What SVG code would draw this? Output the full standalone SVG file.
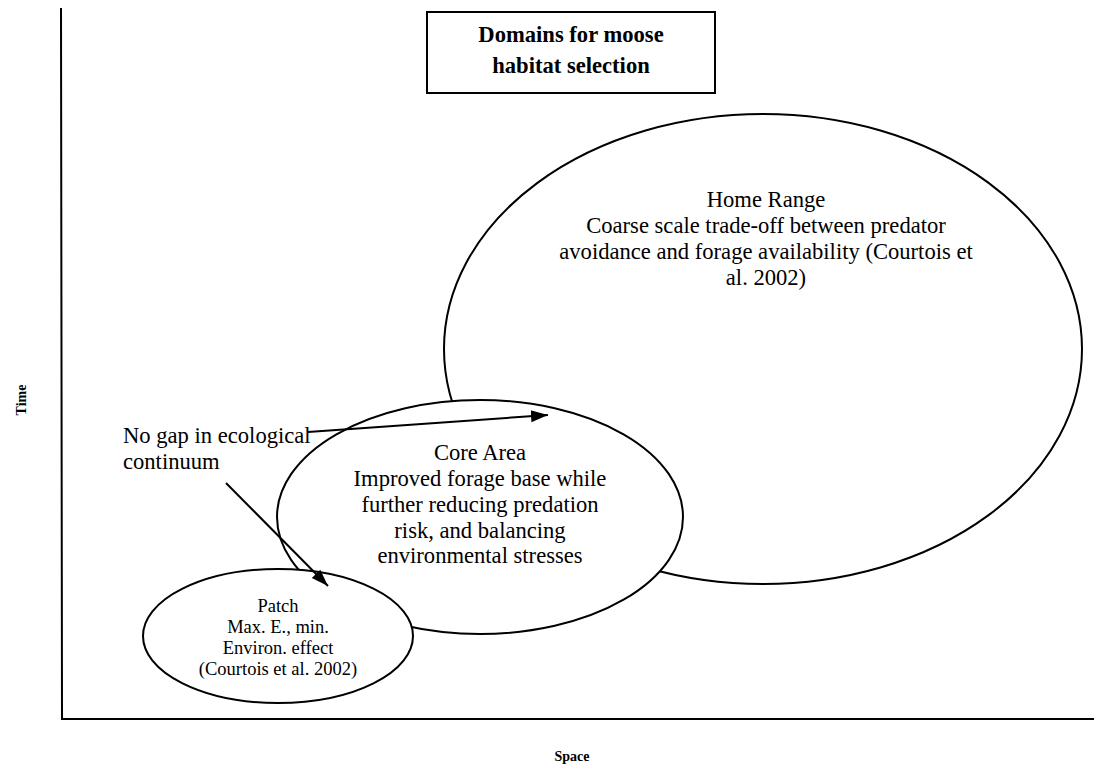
<svg xmlns="http://www.w3.org/2000/svg" width="1094" height="767" viewBox="0 0 1094 767">
<style>
.t{font-family:"Liberation Serif","Times New Roman",serif;fill:#000;text-anchor:middle}
.sh{fill:none;stroke:#000;stroke-width:2}
.el{fill:#fff;stroke:#000;stroke-width:2}
.ax{font-family:"Liberation Serif",serif;font-weight:bold;font-size:14px;text-anchor:middle}
.ln{font-family:"Liberation Serif","Times New Roman",serif;fill:#000;font-size:22.6px}
</style>
<defs>
<marker id="ah2" viewBox="0 0 10 10" refX="10" refY="5" markerWidth="17" markerHeight="17" markerUnits="userSpaceOnUse" orient="auto"><path d="M0,1.5 L10,5 L0,8.5 z" fill="#000"/></marker>
</defs>
<rect width="1094" height="767" fill="#fff"/>
<g id="axes">
<path class="sh" d="M61,8 L62,719 L1094,719"/>
<text class="ax" transform="translate(26,400) rotate(-90)">Time</text>
<text class="ax" x="572" y="761">Space</text>
</g>
<g id="title">
<rect class="sh" x="427" y="12" width="288" height="81"/>
<text class="t" x="571" y="42" font-size="22.6" font-weight="bold">Domains for moose</text>
<text class="t" x="571" y="73" font-size="22.6" font-weight="bold">habitat selection</text>
</g>
<g id="home-range">
<ellipse class="el" cx="763" cy="349" rx="319" ry="235"/>
<text class="t" font-size="22.6"><tspan x="766" y="207">Home Range</tspan><tspan x="766" y="233">Coarse scale trade-off between predator</tspan><tspan x="766" y="259">avoidance and forage availability (Courtois et</tspan><tspan x="766" y="285">al. 2002)</tspan></text>
</g>
<g id="core-area">
<ellipse class="el" cx="480" cy="517" rx="203" ry="117"/>
<text class="t" font-size="22.6"><tspan x="480" y="460">Core Area</tspan><tspan x="480" y="486">Improved forage base while</tspan><tspan x="480" y="512">further reducing predation</tspan><tspan x="480" y="538">risk, and balancing</tspan><tspan x="480" y="563">environmental stresses</tspan></text>
</g>
<g id="patch">
<ellipse class="el" cx="278" cy="636" rx="135" ry="67"/>
<text class="t" font-size="18.5"><tspan x="278" y="612">Patch</tspan><tspan x="278" y="633">Max. E., min.</tspan><tspan x="278" y="654">Environ. effect</tspan><tspan x="278" y="675">(Courtois et al. 2002)</tspan></text>
</g>
<g id="note">
<text class="ln"><tspan x="123" y="443">No gap in ecological</tspan><tspan x="123" y="469">continuum</tspan></text>
</g>
<g id="connectors">
<line class="sh" x1="308" y1="432" x2="548" y2="415" marker-end="url(#ah2)"/>
<line class="sh" x1="226" y1="483" x2="328" y2="586" marker-end="url(#ah2)"/>
</g>
</svg>
